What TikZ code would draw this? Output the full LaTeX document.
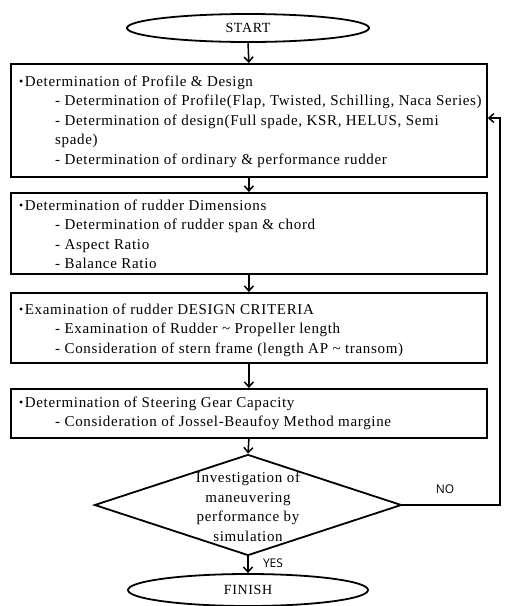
\documentclass[tikz,border=0pt]{standalone}
\usepackage{fontspec}
\setmainfont{Liberation Serif}
\newfontfamily\boxfont[LetterSpace=4.5]{Liberation Serif}
\newfontfamily\bulfont{Liberation Serif}
\newfontfamily\lblfont{Open Sans}
\usetikzlibrary{shapes.geometric,arrows.meta,calc}
\newcommand\mybul{{\bulfont\fontsize{12}{12}\selectfont\raisebox{0.5pt}{•}}\hspace{1.5pt}}
\begin{document}
\begin{tikzpicture}[x=1pt,y=-1pt,
 box/.style={draw, line width=1.8pt, inner sep=0pt, anchor=north west, minimum width=476pt},
 txt/.style={anchor=north west, inner sep=0pt, align=left, font=\boxfont\fontsize{15}{19.5}\selectfont},
 arr/.style={line width=1.5pt, -{Straight Barb[length=5pt,width=9pt,line width=1.5pt]}},
 term/.style={ellipse, draw, line width=1.8pt, minimum width=242pt, minimum height=28pt, inner sep=0pt, font=\boxfont\fontsize{14}{16}\selectfont},
 lbl/.style={inner sep=0pt, font=\lblfont\fontsize{12}{14}\selectfont}
 ]
\useasboundingbox (0,0) rectangle (505,606);
\node[term] (start) at (248,28) {START};
\node[box, minimum height=113pt] (b1) at (10,63) {};
\node[box, minimum height=81pt] (b2) at (10,192) {};
\node[box, minimum height=70pt] (b3) at (10,292) {};
\node[box, minimum height=49pt] (b4) at (10,388) {};
\node[diamond, draw, line width=1.8pt, minimum width=307pt, minimum height=101pt, inner sep=0pt] (dia) at (248,505) {};
\node[term, minimum width=240pt, minimum height=32pt] (fin) at (248,590) {FINISH};

\node[txt] (t1) at (19,72.4) {\strut\mybul Determination of Profile \& Design\\
\hspace*{36pt}- Determination of Profile(Flap, Twisted, Schilling, Naca Series)\\
\hspace*{36pt}- Determination of design(Full spade, KSR, HELUS, Semi\\
\hspace*{36pt}spade)\\
\hspace*{36pt}- Determination of ordinary \& performance rudder};
\node[txt] (t2) at (19,196.4) {\strut\mybul Determination of rudder Dimensions\\
\hspace*{36pt}- Determination of rudder span \& chord\\
\hspace*{36pt}- Aspect Ratio\\
\hspace*{36pt}- Balance Ratio};
\node[txt] (t3) at (19,300.4) {\strut\mybul Examination of rudder DESIGN CRITERIA\\
\hspace*{36pt}- Examination of Rudder \textasciitilde{} Propeller length\\
\hspace*{36pt}- Consideration of stern frame (length AP \textasciitilde{} transom)};
\node[txt] (t4) at (19,393.4) {\strut\mybul Determination of Steering Gear Capacity\\
\hspace*{36pt}- Consideration of Jossel-Beaufoy Method margine};
\node[inner sep=0pt, align=center, font=\boxfont\fontsize{15}{19.5}\selectfont] (dt) at (248,507) {Investigation of\\maneuvering\\performance by\\simulation};

\draw[arr] (start.south) -- (b1.north);
\draw[arr] (b1.south) -- (b2.north);
\draw[arr] (b2.south) -- (b3.north);
\draw[arr] (b3.south) -- (b4.north);
\draw[arr] (b4.south) -- (dia.north);
\draw[arr] (dia.south) -- (fin.north);
\coordinate (fb) at (500,118);
\draw[arr] (dia.east) -| (fb) -- (fb -| b1.east);
\node[lbl] (no) at (445,489) {NO};
\node[lbl] (yes) at (273,563) {YES};
\end{tikzpicture}
\end{document}
